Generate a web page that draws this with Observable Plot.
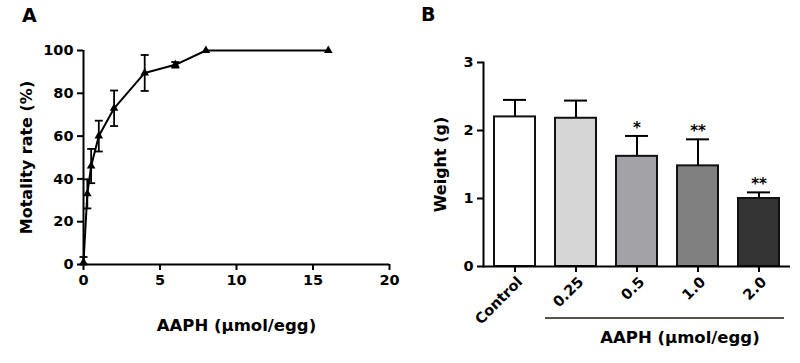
<!DOCTYPE html>
<html>
<head>
<meta charset="utf-8">
<script src="https://cdn.jsdelivr.net/npm/d3@7"></script>
<script src="https://cdn.jsdelivr.net/npm/@observablehq/plot@0.6"></script>
<style>
  html, body { margin: 0; padding: 0; background: #fff; }
  #wrap { position: relative; width: 800px; height: 363px; overflow: hidden; font-family: "DejaVu Sans", sans-serif; font-weight: bold; }
  #wrap svg { position: absolute; top: 0; }
  .panel-label { position: absolute; font-size: 19px; font-weight: bold; line-height: 1; z-index: 2; }
</style>
</head>
<body>
<div id="wrap">
  <div class="panel-label" style="left:22px; top:6px;">A</div>
  <div class="panel-label" style="left:421px; top:5px;">B</div>
</div>
<script>
// ---- Panel A data ----
const doseA = [0, 0.25, 0.5, 1, 2, 4, 6, 8, 16];
const mortality = [1, 33, 46, 60, 73, 89.5, 93.3, 100, 100];
const mortalityErr = [2.5, 6.8, 8, 7.2, 8.3, 8.4, 1.3, 0, 0];
const xTicksA = [0, 5, 10, 15, 20];
const yTicksA = [0, 20, 40, 60, 80, 100];

// ---- Panel B data ----
const groupsB = ["Control", "0.25", "0.5", "1.0", "2.0"];
const weight = [2.2, 2.18, 1.62, 1.48, 1.0];
const weightErr = [0.25, 0.26, 0.3, 0.39, 0.09];
const signif = ["", "", "*", "**", "**"];
const barColors = ["#ffffff", "#d6d6d6", "#a3a3a7", "#808080", "#333333"];
const yTicksB = [0, 1, 2, 3];

const font = { fontFamily: "DejaVu Sans", fontWeight: "bold", fontSize: "14px", background: "transparent", overflow: "visible" };
const tickFont = 14.5;

const dataA = doseA.map((x, i) => ({ x, y: mortality[i], e: mortalityErr[i] }));
const capsA = dataA.filter(d => d.e > 0).flatMap(d => [
  { x: d.x, y: Math.max(0, d.y - d.e) },
  { x: d.x, y: d.y + d.e }
]);
const capSymbol = { draw(ctx) { ctx.moveTo(-4, 0); ctx.lineTo(4, 0); } };

const plotA = Plot.plot({
  width: 400,
  height: 363,
  marginLeft: 83,
  marginRight: 11,
  marginTop: 50,
  marginBottom: 99,
  style: font,
  x: { domain: [0, 20] },
  y: { domain: [0, 100] },
  marks: [
    Plot.axisX({ ticks: xTicksA, tickSize: 6, tickPadding: 4, strokeWidth: 2, fontSize: tickFont, label: null }),
    Plot.axisY({ ticks: yTicksA, tickSize: 6, tickPadding: 4, strokeWidth: 2, fontSize: tickFont, label: null }),
    Plot.ruleX(dataA.filter(d => d.e > 0), { x: "x", y1: d => Math.max(0, d.y - d.e), y2: d => d.y + d.e, strokeWidth: 1.8 }),
    Plot.dot(capsA, { x: "x", y: "y", symbol: capSymbol, stroke: "black", strokeWidth: 1.8, fill: "none" }),
    Plot.line(dataA, { x: "x", y: "y", strokeWidth: 2, stroke: "black" }),
    Plot.dot(dataA, { x: "x", y: "y", symbol: "triangle", r: 3.2, fill: "black" }),
    Plot.ruleX([0], { strokeWidth: 2 }),
    Plot.ruleY([0], { strokeWidth: 2 }),
    Plot.text(["Motality rate (%)"], { frameAnchor: "left", textAnchor: "middle", rotate: -90, dx: -57, fontSize: 16, lineAnchor: "middle" }),
    Plot.text(["AAPH (μmol/egg)"], { frameAnchor: "bottom", textAnchor: "middle", dy: 61, fontSize: 16.5, lineAnchor: "middle" })
  ]
});
plotA.style.left = "0px";
document.getElementById("wrap").appendChild(plotA);

const dataB = groupsB.map((g, i) => ({ g, v: weight[i], e: weightErr[i], s: signif[i] }));

const plotB = Plot.plot({
  width: 400,
  height: 363,
  marginLeft: 83,
  marginRight: 10,
  marginTop: 62,
  marginBottom: 97,
  style: font,
  x: { domain: groupsB, paddingInner: 0.32, paddingOuter: 0.16 },
  y: { domain: [0, 3] },
  color: { domain: groupsB, range: barColors },
  marks: [
    Plot.axisX({ tickSize: 6, strokeWidth: 2, label: null, text: null }),
    Plot.axisX({ tickSize: 0, tickPadding: 9, tickRotate: -45, dx: 5, dy: 4, fontSize: tickFont, label: null }),
    Plot.axisY({ ticks: yTicksB, tickFormat: d => String(d), tickSize: 6, tickPadding: 4, strokeWidth: 2, fontSize: tickFont, label: null }),
    Plot.ruleX(dataB, { x: "g", y1: "v", y2: d => d.v + d.e, strokeWidth: 2 }),
    Plot.tickY(dataB, { x: "g", y: d => d.v + d.e, strokeWidth: 2, inset: 9 }),
    Plot.barY(dataB, { x: "g", y: "v", fill: "g", stroke: "#111", strokeWidth: 2 }),
    Plot.text(dataB.filter(d => d.s), { x: "g", y: d => d.v + d.e, text: "s", dy: -8, fontSize: 15, lineAnchor: "middle" }),
    Plot.frame({ anchor: "left", strokeWidth: 2 }),
    Plot.ruleY([0], { strokeWidth: 2 }),
    Plot.text(["Weight (g)"], { frameAnchor: "left", textAnchor: "middle", rotate: -90, dx: -43, fontSize: 16, lineAnchor: "middle" }),
    Plot.text(["AAPH (μmol/egg)"], { frameAnchor: "bottom", textAnchor: "middle", dx: 43, dy: 71, fontSize: 16.5, lineAnchor: "middle" })
  ]
});
plotB.style.left = "400px";
document.getElementById("wrap").appendChild(plotB);

// bracket line under the AAPH dose groups, placed from the band scale
const xs = plotB.scale("x");
const gap = xs.step - xs.bandwidth;
const lx1 = xs.apply("0.25") - gap / 2;
const lx2 = xs.apply("2.0") + xs.bandwidth + gap / 4;
const ly = 363 - 97 + 52;
d3.select(plotB).append("line")
  .attr("x1", lx1).attr("x2", lx2)
  .attr("y1", ly).attr("y2", ly)
  .attr("stroke", "#231815").attr("stroke-width", 1.5);
</script>
</body>
</html>
